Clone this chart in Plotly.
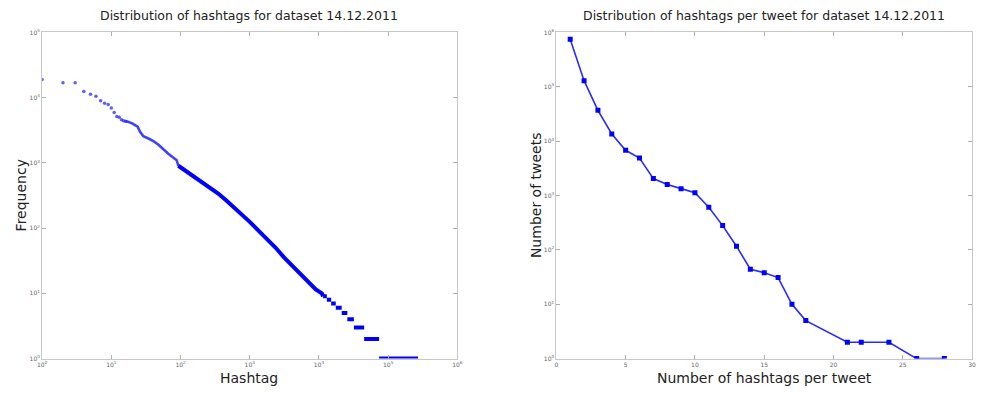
import plotly.graph_objects as go

# ---- hashtag rank / frequency (dataset 14.12.2011) ----
# most used hashtags, one point per rank
top_rank = [1, 2, 3, 4, 5, 6, 7, 8, 9, 10, 11, 12, 13, 14, 15, 16]
top_freq = [19000, 17000, 17000, 12500, 11300, 10500, 8950, 8250, 7850, 6950,
            5950, 5150, 5000, 4600, 4450, 4350]

# body of the distribution (rank, frequency)
mid_rank = [16, 17, 20, 22, 24, 26, 29, 35, 41, 48, 56, 66, 79, 88, 93]
mid_freq = [4350, 4300, 4050, 3850, 3600, 3000, 2560, 2350, 2150, 1900, 1610,
            1400, 1200, 1100, 905]

tail_rank = [93, 110, 130, 151, 200, 264, 350, 455, 600, 790, 1000, 1370, 1800,
             2370, 3100, 4100, 5400, 7090, 9000, 11000, 11500]
tail_freq = [905, 800, 720, 640, 530, 427, 340, 267, 205, 159, 125, 89, 68,
             50, 36, 26.5, 19.5, 14.8, 11.5, 10, 9]

# low frequencies: range of ranks sharing the same frequency
run_freq = [9, 8, 7, 6, 5, 4, 3, 2, 1]
run_first = [11500, 13000, 15000, 17500, 21300, 25700, 32000, 45000, 74000]
run_last = [13000, 15000, 17500, 21300, 25700, 32000, 45000, 74000, 270000]

# ---- hashtags per tweet ----
tags_per_tweet = [1, 2, 3, 4, 5, 6, 7, 8, 9, 10, 11, 12, 13, 14, 15, 16, 17, 18,
                  21, 22, 24, 26, 28]
tweet_count = [750000, 130000, 37000, 13600, 6800, 4900, 2050, 1600, 1340, 1130,
               610, 280, 117, 44, 38, 31, 10, 5, 2, 2, 2, 1, 1]

left_xticks = [1, 10, 100, 1000, 10000, 100000, 1000000]
left_yticks = [1, 10, 100, 1000, 10000, 100000]
right_xticks = [0, 5, 10, 15, 20, 25, 30]
right_yticks = [1, 10, 100, 1000, 10000, 100000, 1000000]

FONT = "DejaVu Sans"
BLUE = "#0000ff"

def pow_labels(vals):
    return ["10<sup>%d</sup>" % (len(str(int(v))) - 1) for v in vals]

fig = go.Figure()

fig.add_trace(go.Scatter(x=top_rank, y=top_freq, mode="markers",
                         marker=dict(size=3.5, color="rgba(40,40,255,0.75)"),
                         xaxis="x", yaxis="y", showlegend=False))
fig.add_trace(go.Scatter(x=mid_rank, y=mid_freq, mode="lines",
                         line=dict(width=2.6, color="rgba(30,30,255,0.85)"),
                         xaxis="x", yaxis="y", showlegend=False))
fig.add_trace(go.Scatter(x=tail_rank, y=tail_freq, mode="lines",
                         line=dict(width=4, color=BLUE),
                         xaxis="x", yaxis="y", showlegend=False))

rx, ry = [], []
for f, a, b in zip(run_freq, run_first, run_last):
    rx += [a, b, None]
    ry += [f, f, None]
fig.add_trace(go.Scatter(x=rx, y=ry, mode="lines",
                         line=dict(width=4, color=BLUE),
                         xaxis="x", yaxis="y", showlegend=False))

fig.add_trace(go.Scatter(x=tags_per_tweet, y=tweet_count, mode="lines+markers",
                         line=dict(width=1.6, color="#2a2aff"),
                         marker=dict(size=5, symbol="square", color=BLUE),
                         xaxis="x2", yaxis="y2", showlegend=False))

axis_common = dict(showline=True, linecolor="#c8c8c8", linewidth=1,
                   mirror="allticks", ticks="inside", ticklen=4,
                   tickcolor="#b0b0b0", showgrid=False, zeroline=False,
                   tickfont=dict(family=FONT, size=6, color="#666666"))

ydom = [34 / 395, 366 / 395]
fig.update_layout(
    width=986, height=395,
    margin=dict(l=0, r=0, t=0, b=0),
    paper_bgcolor="white", plot_bgcolor="white",
    xaxis=dict(type="log", range=[0, 6], domain=[37.5 / 986, 457 / 986],
               tickvals=left_xticks, ticktext=pow_labels(left_xticks),
               anchor="y", **axis_common),
    yaxis=dict(type="log", range=[0, 5], domain=ydom,
               tickvals=left_yticks, ticktext=pow_labels(left_yticks),
               anchor="x", **axis_common),
    xaxis2=dict(range=[0, 30], domain=[557 / 986, 977 / 986],
                tickvals=right_xticks, ticktext=[str(v) for v in right_xticks],
                anchor="y2", **axis_common),
    yaxis2=dict(type="log", range=[0, 6], domain=ydom,
                tickvals=right_yticks, ticktext=pow_labels(right_yticks),
                anchor="x2", **axis_common),
)

def note(text, x, y, size, angle=0):
    fig.add_annotation(text=text, x=x / 986, y=1 - y / 395, xref="paper",
                       yref="paper", showarrow=False, textangle=angle,
                       xanchor="center", yanchor="middle",
                       font=dict(family=FONT, size=size, color="#222222"))

note("Distribution of hashtags for dataset 14.12.2011", 247, 12, 12.5)
note("Distribution of hashtags per tweet for dataset 14.12.2011", 767, 12, 12.5)
note("Hashtag", 247, 381, 14)
note("Frequency", 16, 195, 14, -90)
note("Number of hashtags per tweet", 767, 381, 14)
note("Number of tweets", 536, 195, 14, -90)

fig.write_html("out.html")
